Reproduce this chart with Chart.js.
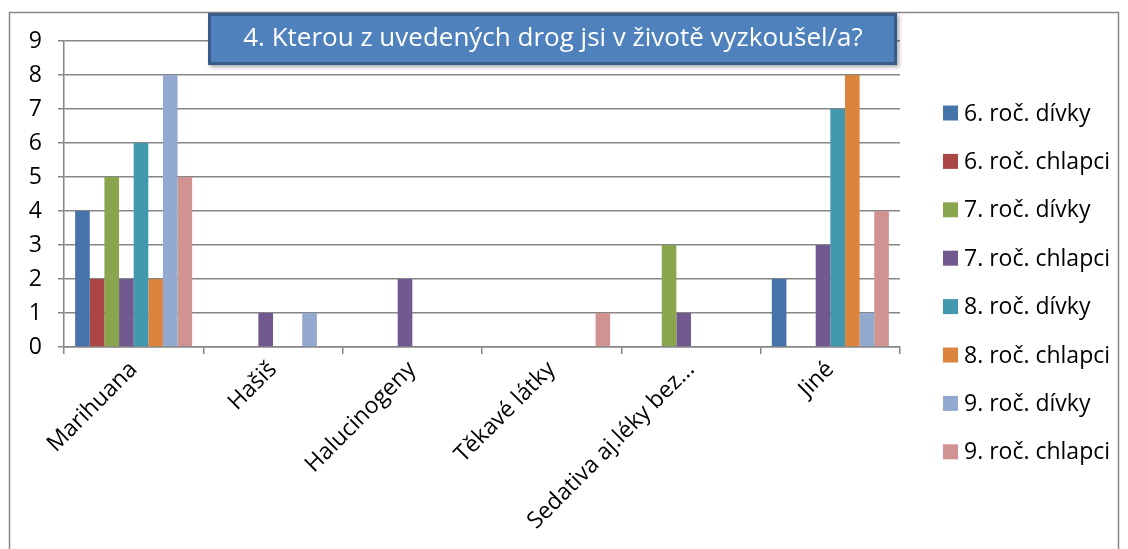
<!DOCTYPE html>
<html>
<head>
<meta charset="utf-8">
<script src="https://cdn.jsdelivr.net/npm/chart.js@4.4.1/dist/chart.umd.min.js"></script>
<style>
  html, body { margin: 0; padding: 0; background: #fff; }
  #wrap { width: 1128px; height: 549px; position: relative; }
</style>
</head>
<body>
<div id="wrap"><canvas id="graf"></canvas></div>
<script>
// Kategorie a hodnoty
const kategorie = ['Marihuana', 'Hašiš', 'Halucinogeny', 'Těkavé látky', 'Sedativa aj.léky bez...', 'Jiné'];
const tickyY = [0, 1, 2, 3, 4, 5, 6, 7, 8, 9];
const nazevGrafu = '4. Kterou z uvedených drog jsi v životě vyzkoušel/a?';

const divky6 = [4, 0, 0, 0, 0, 2];
const chlapci6 = [2, 0, 0, 0, 0, 0];
const divky7 = [5, 0, 0, 0, 3, 0];
const chlapci7 = [2, 1, 2, 0, 1, 3];
const divky8 = [6, 0, 0, 0, 0, 7];
const chlapci8 = [2, 0, 0, 0, 0, 8];
const divky9 = [8, 1, 0, 0, 0, 1];
const chlapci9 = [5, 0, 0, 1, 0, 4];

const pismo = '"Open Sans", sans-serif';
const seda = '#868686';

// Rámeček, nadpis v modrém boxu a vlastní legenda
const doplnky = {
    id: 'doplnky',
    beforeDraw(chart) {
        const ctx = chart.ctx;
        ctx.save();
        ctx.strokeStyle = seda;
        ctx.lineWidth = 1.5;
        ctx.strokeRect(9.5, 12.5, 1109, 560);
        ctx.restore();
    },
    afterDraw(chart) {
        const ctx = chart.ctx;
        ctx.save();
        // nadpis
        ctx.shadowColor = 'rgba(0,0,0,0.35)';
        ctx.shadowBlur = 4;
        ctx.shadowOffsetX = 2;
        ctx.shadowOffsetY = 2;
        ctx.fillStyle = '#4f81bd';
        ctx.fillRect(208, 13, 689, 52);
        ctx.shadowColor = 'transparent';
        ctx.strokeStyle = '#385d8a';
        ctx.lineWidth = 3;
        ctx.strokeRect(209.5, 14.5, 686, 49);
        ctx.fillStyle = '#ffffff';
        ctx.font = '26px ' + pismo;
        ctx.textAlign = 'center';
        ctx.textBaseline = 'middle';
        ctx.fillText(nazevGrafu, 553, 39);

        // legenda
        ctx.font = '23px ' + pismo;
        ctx.textAlign = 'left';
        chart.data.datasets.forEach((ds, i) => {
            const y = 113 + i * 48.4;
            ctx.fillStyle = ds.backgroundColor;
            ctx.fillRect(943, y - 7.5, 15, 15);
            ctx.fillStyle = '#000';
            ctx.fillText(ds.label, 964, y + 1);
        });
        ctx.restore();
    }
};

new Chart(document.getElementById('graf'), {
    type: 'bar',
    data: {
        labels: kategorie,
        datasets: [
            { label: '6. roč. dívky', data: divky6, backgroundColor: '#4673a9' },
            { label: '6. roč. chlapci', data: chlapci6, backgroundColor: '#aa4744' },
            { label: '7. roč. dívky', data: divky7, backgroundColor: '#89a54e' },
            { label: '7. roč. chlapci', data: chlapci7, backgroundColor: '#71588f' },
            { label: '8. roč. dívky', data: divky8, backgroundColor: '#4298af' },
            { label: '8. roč. chlapci', data: chlapci8, backgroundColor: '#db843d' },
            { label: '9. roč. dívky', data: divky9, backgroundColor: '#93a9cf' },
            { label: '9. roč. chlapci', data: chlapci9, backgroundColor: '#d19392' }
        ]
    },
    options: {
        responsive: true,
        maintainAspectRatio: false,
        animation: false,
        layout: { padding: { left: 0, top: 41, right: 228, bottom: 0 } },
        plugins: {
            legend: { display: false },
            tooltip: { enabled: false }
        },
        datasets: {
            bar: { categoryPercentage: 0.84, barPercentage: 1.0 }
        },
        scales: {
            x: {
                afterFit(scale) { scale.height = 202; },
                grid: { offset: true, drawOnChartArea: false, drawTicks: true, tickLength: 7, color: seda, lineWidth: 1.5 },
                border: { color: seda, width: 1.5 },
                ticks: {
                    color: '#000',
                    font: { family: pismo, size: 23 },
                    minRotation: 45,
                    maxRotation: 45,
                    autoSkip: false,
                    padding: 2
                }
            },
            y: {
                min: 0,
                max: 9,
                afterFit(scale) { scale.width = 64; },
                afterBuildTicks(scale) { scale.ticks = tickyY.map(v => ({ value: v })); },
                grid: { color: seda, lineWidth: 1.5, tickLength: 6 },
                border: { color: seda, width: 1.5 },
                ticks: {
                    color: '#000',
                    font: { family: pismo, size: 23 },
                    padding: 16
                }
            }
        }
    },
    plugins: [doplnky]
});
</script>
</body>
</html>
